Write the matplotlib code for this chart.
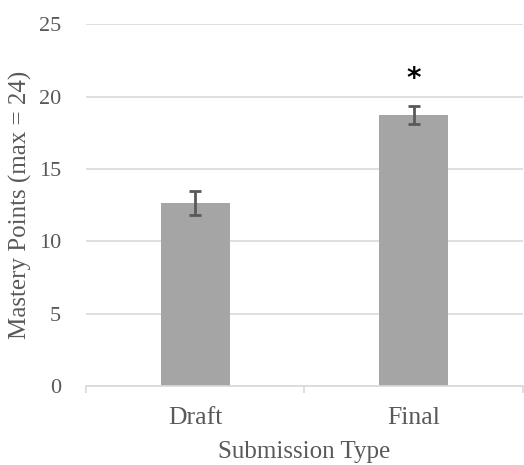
import numpy as np
import matplotlib.pyplot as plt

# data
categories = ["Draft", "Final"]
means = [12.66, 18.72]
errors = [0.84, 0.60]
sig_marks = ["", "*"]

plt.rcParams["font.family"] = ["Liberation Serif", "DejaVu Serif"]

TEXT = "#595959"
GRID = "#D9D9D9"
BAR = "#A5A5A5"

fig = plt.figure(figsize=(5.24, 4.65), dpi=100)
ax = fig.add_axes([0.164, 0.170, 0.834, 0.778])

xs = np.arange(len(categories))
ax.bar(xs, means, width=0.315, color=BAR, zorder=2)
ax.errorbar(xs, means, yerr=errors, fmt="none", ecolor=TEXT,
            elinewidth=2, capsize=4, capthick=2, zorder=3)
for x, m, e, s in zip(xs, means, errors, sig_marks):
    if s:
        ax.text(x, m + e + 1.9, s, ha="center", va="center",
                fontsize=20, fontweight="bold", color="black",
                family="DejaVu Sans")

ax.set_xlim(-0.5, len(categories) - 0.5)
ax.set_ylim(0, 25)
ax.set_yticks(np.arange(0, 26, 5))
ax.yaxis.grid(True, color=GRID, lw=1.2, zorder=0)
ax.set_axisbelow(True)

for side in ["top", "right", "left"]:
    ax.spines[side].set_visible(False)
ax.spines["bottom"].set_color(GRID)
ax.spines["bottom"].set_linewidth(1.2)

ax.set_xticks(xs)
ax.set_xticklabels(categories)
ax.set_xticks(np.arange(-0.5, len(categories)), minor=True)
ax.tick_params(axis="x", which="major", length=0, pad=15,
               labelsize=18.5, labelcolor=TEXT)
ax.tick_params(axis="x", which="minor", length=5, width=1.2,
               color=GRID, direction="out")
ax.tick_params(axis="y", length=0, pad=18, labelsize=16, labelcolor=TEXT)

ax.set_xlabel("Submission Type", fontsize=18, color=TEXT, labelpad=9)
ax.set_ylabel("Mastery Points (max = 24)", fontsize=18, color=TEXT, labelpad=5)

fig.savefig("out.png", dpi=100)
